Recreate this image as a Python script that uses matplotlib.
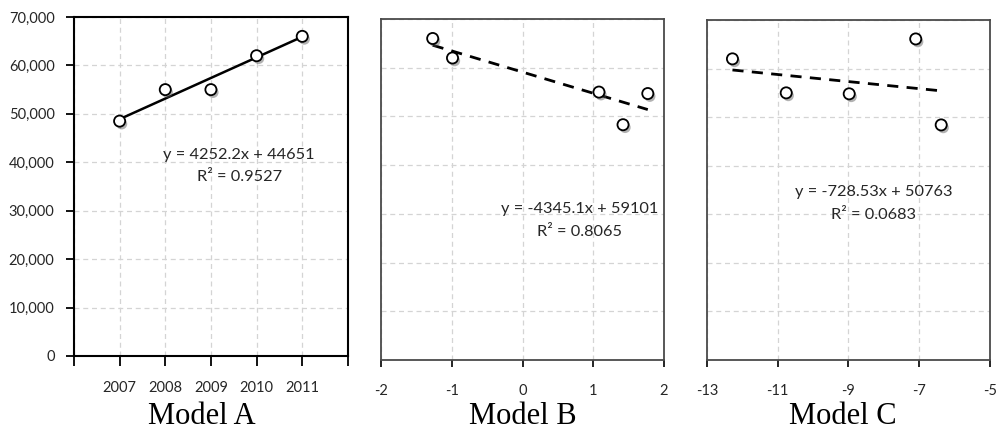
import matplotlib
matplotlib.use("Agg")
import matplotlib.pyplot as plt
import matplotlib.patheffects as pe
from matplotlib.ticker import FuncFormatter
import numpy as np

plt.rcParams["axes.unicode_minus"] = False

# --- data ---
years = [2007, 2008, 2009, 2010, 2011]
vals_a = [48500, 55000, 55000, 62000, 66000]
trend_a = (4252.2, 44651)   # Excel trendline on category index 1..5
r2_a = 0.9527

x_b = [-1.27, -0.99, 1.08, 1.42, 1.77]
vals_b = [66000, 62000, 55000, 48300, 54700]
trend_b = (-4345.1, 59101)
r2_b = 0.8065

x_c = [-12.28, -10.76, -8.98, -7.10, -6.38]
vals_c = [62000, 55000, 54800, 66100, 48400]
trend_c = (-728.53, 50763)
r2_c = 0.0683

titles = ["Model A", "Model B", "Model C"]

TXT = "#262626"
GRID = "#d4d4d4"
FONT = "Lato"
EQ_SIZE = 11.8

fig = plt.figure(figsize=(9.98, 4.30), dpi=100)
ax_a = fig.add_axes([0.0741, 0.1721, 0.2745, 0.7884])
ax_b = fig.add_axes([0.3818, 0.1628, 0.2836, 0.7930])
ax_c = fig.add_axes([0.7084, 0.1628, 0.2836, 0.7907])

shadow = [pe.SimplePatchShadow(offset=(1.5, -2), shadow_rgbFace="#555555", alpha=0.45), pe.Normal()]


def draw_panel(ax, xs, ys, trend, dashed, idx=None):
    ax.set_ylim(0, 70000)
    ax.set_yticks(range(0, 70001, 10000))
    ax.grid(True, color=GRID, linestyle=(0, (4, 3)), linewidth=0.9)
    ax.set_axisbelow(True)
    m, b = trend
    xs = np.asarray(xs, dtype=float)
    # trend is evaluated on idx (category number) when given, else on x itself
    fx = np.asarray(idx, dtype=float) if idx is not None else xs
    ends = [0, len(xs) - 1]
    ax.plot(xs[ends], m * fx[ends] + b, color="black", lw=2 if dashed else 1.8,
            linestyle=(0, (4, 3)) if dashed else "-", zorder=3)
    ax.plot(xs, ys, linestyle="none", marker="o", ms=8, mfc="white",
            mec="black", mew=1.3, zorder=4, path_effects=shadow)


def equation(ax, x, y1, y2, trend, r2):
    ax.text(x, y1, f"y = {trend[0]}x + {trend[1]}", ha="center", va="center",
            fontsize=EQ_SIZE, family=FONT, color=TXT)
    ax.text(x, y2, f"R² = {r2}", ha="center", va="center",
            fontsize=EQ_SIZE, family=FONT, color=TXT)


# Model A
draw_panel(ax_a, years, vals_a, trend_a, dashed=False, idx=range(1, len(years) + 1))
ax_a.set_xlim(2006, 2012)
ax_a.set_xticks(range(2006, 2013))
ax_a.set_xticklabels([""] + [str(y) for y in years] + [""])
ax_a.yaxis.set_major_formatter(FuncFormatter(lambda v, p: f"{int(v):,}"))
for s in ax_a.spines.values():
    s.set_color("black")
    s.set_linewidth(1.5)
ax_a.tick_params(axis="y", length=6, width=1.3, pad=8, labelsize=10.5, labelcolor=TXT)
ax_a.tick_params(axis="x", length=7, width=1.3, pad=11, labelsize=10.5, labelcolor=TXT)
equation(ax_a, 2009.62, 41500, 37000, trend_a, r2_a)

# Model B
draw_panel(ax_b, x_b, vals_b, trend_b, dashed=True)
ax_b.set_xlim(-2, 2)
ax_b.set_xticks([-2, -1, 0, 1, 2])
equation(ax_b, 0.8, 30900, 26200, trend_b, r2_b)

# Model C
draw_panel(ax_c, x_c, vals_c, trend_c, dashed=True)
ax_c.set_xlim(-13, -5)
ax_c.set_xticks([-13, -11, -9, -7, -5])
equation(ax_c, -8.29, 34500, 29800, trend_c, r2_c)

for ax in (ax_b, ax_c):
    ax.set_yticklabels([])
    ax.tick_params(axis="y", length=0)
    ax.tick_params(axis="x", length=5, width=1.2, pad=12, labelsize=10.5, labelcolor=TXT)
    for s in ax.spines.values():
        s.set_color("#4a4a4a")
        s.set_linewidth(1.3)

for ax in (ax_a, ax_b, ax_c):
    for lab in ax.get_xticklabels() + ax.get_yticklabels():
        lab.set_fontfamily(FONT)

# panel titles below each chart
offsets = [-9, 0, -6]
for ax, t, off in zip((ax_a, ax_b, ax_c), titles, offsets):
    bb = ax.get_position()
    fig.text(bb.x0 + bb.width / 2 + off / 998, 13.5 / 430, t,
             ha="center", va="center", fontsize=22, family="Liberation Serif", color="black")

fig.savefig("out.png", dpi=100, facecolor="white")
